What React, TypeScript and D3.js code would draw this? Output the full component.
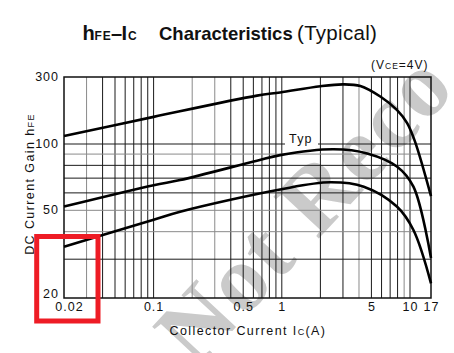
import * as d3 from "d3"

// hFE vs Ic
const curveMax = [
    [0.02, 114], [0.1, 156], [0.64, 221], [0.97, 233], [2.0, 258], [3.0, 266],
    [4.1, 259], [5.9, 217], [7.9, 175], [9.5, 141], [11.35, 104], [17, 58],
]
const curveTyp = [
    [0.02, 52], [0.1, 65], [0.161, 68.6], [0.64, 84], [0.97, 89], [2.54, 94.6],
    [4.63, 90.6], [7.9, 79], [10.9, 64], [17, 30.4],
]
const curveMin = [
    [0.02, 34.2], [0.1, 45.3], [0.161, 49.3], [0.97, 62.2], [2.39, 67],
    [4.36, 64], [7.9, 52], [10.9, 40.7], [17, 23.3],
]

const xTicks = [0.02, 0.1, 0.5, 1, 5, 10, 17]
const yTicks = [20, 50, 100, 300]
const xGrid = [0.03, 0.04, 0.05, 0.06, 0.07, 0.08, 0.09, 0.1, 0.2, 0.3, 0.4, 0.5, 0.6, 0.7, 0.8, 0.9, 1, 2, 3, 4, 5, 6, 7, 8, 9, 10]
const yGrid = [30, 40, 50, 60, 70, 80, 90, 100]
const xGridGray = [0.03, 0.2, 0.3, 4, 9]
const yGridGray = [40, 50, 90]

const W = 454
const H = 353
const font = "'Liberation Sans', Arial, sans-serif"

export default function App() {
    // the printed axes are not one uniform log scale, so use piecewise log domains
    const x = d3.scaleLog().domain([0.02, 10, 17]).range([64, 410, 431])
    const y = d3.scaleLog().domain([20, 100, 300]).range([298, 144, 77])

    const line = d3.line<number[]>()
        .x(d => x(d[0]))
        .y(d => y(d[1]))
        .curve(d3.curveCatmullRom.alpha(0.5))

    const [x0, x1] = [x(0.02), x(17)]
    const [y0, y1] = [y(20), y(300)]

    return (
        <svg width={W} height={H} style={{ position: "absolute", left: 0, top: 0, background: "#fff" }}>
            {/* watermark */}
            <text
                transform="translate(196,370) rotate(-47)"
                fontFamily="'Liberation Serif', 'DejaVu Serif', serif"
                fontWeight="bold"
                fontSize={94}
                letterSpacing={2}
                fill="#bdbdbd"
                opacity={0.8}
            >
                Not Reco
            </text>

            {/* title */}
            <text y={40} fontFamily={font} fontWeight="bold" fill="#111">
                <tspan x={82.5} fontSize={20}>h</tspan>
                <tspan x={94.5} fontSize={12} letterSpacing={1}>FE</tspan>
                <tspan x={111} fontSize={20}>–</tspan>
                <tspan x={121.5} fontSize={20}>I</tspan>
                <tspan x={128} fontSize={12}>C</tspan>
                <tspan x={159} fontSize={18.5}>Characteristics</tspan>
                <tspan x={297} fontSize={20.5} fontWeight="normal" letterSpacing={0.3}>(Typical)</tspan>
            </text>

            <text x={371} y={69} fontFamily={font} fontSize={12} letterSpacing={1} fill="#111">
                (V<tspan fontSize={8.5}>CE</tspan>=4V)
            </text>

            {/* grid */}
            {xGrid.map(v => (
                <line key={"gx" + v} x1={x(v)} x2={x(v)} y1={y0} y2={y1}
                    stroke={xGridGray.includes(v) ? "#8a8a8a" : "#1a1a1a"} strokeWidth={1} />
            ))}
            {yGrid.map(v => (
                <line key={"gy" + v} x1={x0} x2={x1} y1={y(v)} y2={y(v)}
                    stroke={yGridGray.includes(v) ? "#8a8a8a" : "#1a1a1a"} strokeWidth={1} />
            ))}
            <rect x={x0} y={y1} width={x1 - x0} height={y0 - y1} fill="none" stroke="#111" strokeWidth={1.5} />

            {/* curves */}
            {[curveMax, curveTyp, curveMin].map((c, i) => (
                <path key={i} d={line(c) || ""} fill="none" stroke="#000" strokeWidth={2.6} />
            ))}

            {/* Typ label sits on the 100 gridline */}
            <rect x={285} y={136} width={33} height={10} fill="#fff" />
            <text x={289} y={142.5} fontFamily={font} fontSize={12.5} letterSpacing={1.2} fill="#111">Typ</text>

            {/* y ticks */}
            {yTicks.map(v => (
                <text key={"yt" + v} x={59} y={Math.min(y(v), 294)} textAnchor="end" dominantBaseline="central"
                    fontFamily={font} fontSize={12.5} letterSpacing={1} fill="#111">
                    {v}
                </text>
            ))}

            {/* x ticks */}
            {xTicks.map(v => (
                <text key={"xt" + v} x={Math.max(x(v), 69) + 0.5} y={311} textAnchor="middle"
                    fontFamily={font} fontSize={12.5} letterSpacing={1} fill="#111">
                    {v}
                </text>
            ))}

            {/* axis titles */}
            <text x={248} y={335} textAnchor="middle" fontFamily={font} fontSize={12.5} letterSpacing={1.4} fill="#111">
                Collector Current I<tspan fontSize={9}>C</tspan>(A)
            </text>
            <text transform="translate(34,184) rotate(-90)" textAnchor="middle" fontFamily={font} fontSize={12.5}
                letterSpacing={1.4} fill="#111">
                DC Current Gain h<tspan fontSize={9}>FE</tspan>
            </text>

            {/* highlight box */}
            <rect x={36.7} y={236.5} width={61.3} height={84.5} fill="none" stroke="#ee1c25" strokeWidth={5} />
        </svg>
    )
}
